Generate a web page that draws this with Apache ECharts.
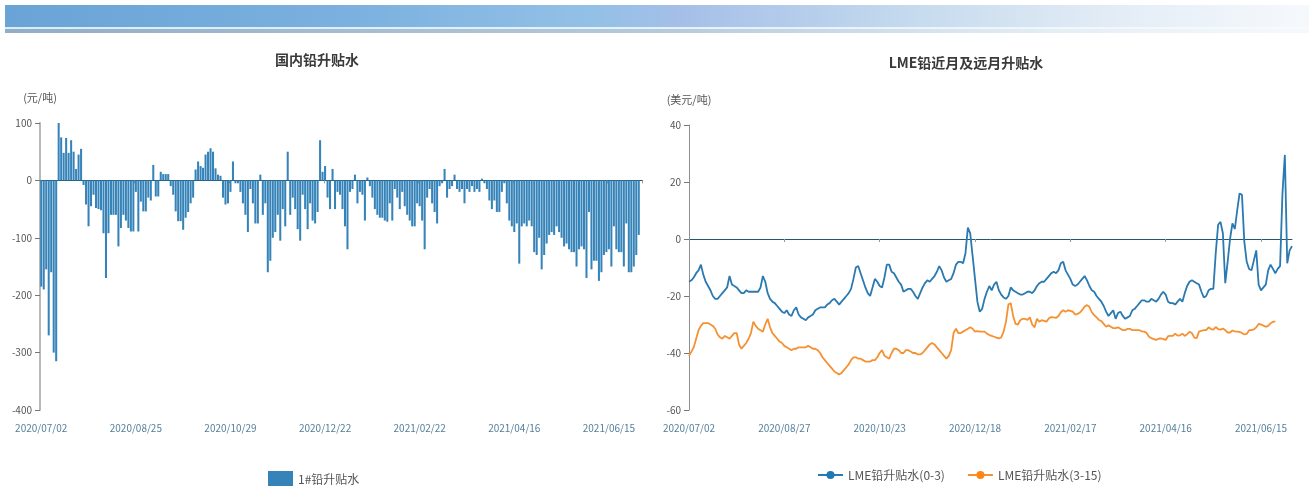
<!DOCTYPE html>
<html>
<head>
<meta charset="utf-8">
<script src="https://cdn.jsdelivr.net/npm/echarts@6/dist/echarts.min.js"></script>
<style>
  html, body { margin: 0; padding: 0; background: #ffffff; }
  #chart { width: 1309px; height: 486px; }
</style>
</head>
<body>
<div id="chart"></div>
<script>
// Exchange calendars used to build the date categories
const domesticClosed = [
  '2020-10-01', '2020-10-02', '2020-10-05', '2020-10-06', '2020-10-07', '2020-10-08',
  '2021-01-01', '2021-02-11', '2021-02-12', '2021-02-15', '2021-02-16', '2021-02-17',
  '2021-04-05', '2021-05-03', '2021-05-04', '2021-05-05', '2021-06-14'
];
const domesticNoQuote = ['2020-09-29', '2020-09-30', '2020-10-09'];
const lmeClosed = [
  '2020-08-31', '2020-12-25', '2020-12-28', '2021-01-01',
  '2021-04-02', '2021-04-05', '2021-05-03', '2021-05-31'
];

// 1# lead spot premium/discount (yuan/t)
const domesticSpread = [
  -185, -190, -155, -270, -160, -300, -315,
  100, 75, 48, 74, 48, 70, 50, 20, 45, 55,
  -8, -42, -80, -45, -25, -48, -50, -52, -92, -170, -92, -60, -60,
  -60, -115, -83, -60, -70, -83, -89, -89, -20, -89,
  -37, -54, -54, -30, -35, 27, -28, -28, 15, 11,
  11, 11, -10, -25, -54, -71, -71, -86, -65, -55,
  -40, -30, 19, 33, 25, 22, 45, 50, 56, 50,
  21, 10, 8, -30, -42, -40, -20, 33, -5, -5,
  -20, -40, -60, -90, -15, -40, -75, -75, 10, -60,
  -40, -160, -140, -100, -90, -60, -105, -50, -80, 50,
  -60, -30, -50, -85, -105, -25, -50, -85, -40, -70,
  -75, -55, 70, 15, 25, -30, -50, 20, -50, -20,
  -25, -50, -80, -120, -20, -15, 10, -40, -20, -25,
  -70, 5, -10, -30, -50, -60, -65, -65, -70, -72,
  -40, -70, -15, -30, -50, -20, -45, -60, -70, -80,
  -80, -40, -45, -70, -120, -30, -15, -40, -55, -75,
  -10, -5, 20, -30, -15, -10, 10, -15, -20, -15,
  -40, -15, -20, -10, -20, -15, -20, 3, -5, -15,
  -35, -50, -35, -55, -55, -20, -5, -40, -70, -80,
  -90, -75, -145, -80, -75, -80, -70, -80, -125, -130,
  -100, -155, -130, -110, -95, -90, -95, -80, -90, -100,
  -115, -110, -120, -125, -125, -150, -120, -115, -120, -170,
  -55, -155, -140, -140, -175, -160, -130, -125, -120, -150,
  -80, -120, -125, -125, -150, -75, -160, -160, -150, -130, -95
];

// LME lead cash-3M spread (USD/t)
const lmeCash3M = [
  -15, -14.5, -13.5, -12, -11, -9, -12.5, -15, -16.5, -18,
  -20, -21, -21, -20, -19, -18, -17, -13, -16, -16.5,
  -17, -18, -19, -19, -18, -18.5, -18.5, -18.5, -18.5, -18.5,
  -17, -13, -15, -19, -21, -22, -22.5, -23.5, -24.5, -25.5,
  -26, -25, -26.5, -27, -25, -24, -26.5, -27.5, -28, -28.5,
  -27.5, -27, -26.5, -25, -24.5, -24, -24, -24, -23, -22.5,
  -21.5, -21, -22, -23, -22, -21, -20, -19, -17.5, -14,
  -10, -9.5, -12, -14.5, -17, -19, -20, -17, -14, -15,
  -16.5, -17, -13.5, -9, -9, -11.5, -12, -13.5, -15, -16,
  -18.5, -18, -17.5, -17.5, -18.5, -20, -21, -19, -17, -15.5,
  -14.5, -15, -14, -13, -11.5, -9.5, -11, -13.5, -15, -14.5,
  -14, -12, -9, -8, -8, -8.5, -5, 4, 2, -6,
  -14, -22, -25.5, -24.5, -21, -18.5, -16.5, -18, -16, -15,
  -18, -19.5, -20.5, -21, -20, -17, -18, -18.5, -19, -19.5,
  -19.5, -19, -18.5, -18.5, -19, -18, -16.5, -15.5, -15, -15,
  -14, -13, -12, -11.5, -12, -11, -8.5, -8, -11, -12.5,
  -14, -16, -16.5, -16, -15, -14, -13, -14.5, -16.5, -18,
  -18.5, -20, -21, -22, -23.5, -25.5, -27, -26, -25, -28,
  -26, -25.5, -27, -28, -27.5, -27, -25, -24.5, -23.5, -22.5,
  -21.5, -21.5, -22, -22, -21, -21.5, -22, -21, -19.5, -18.5,
  -19.5, -22, -22.5, -22.5, -23, -22, -21, -22, -19, -16.5,
  -15, -14.5, -15, -15.5, -16, -18.5, -20.5, -20, -18, -17.5,
  -17.5, -5, 5, 6, 2, -15.5, -8, 0, 5.5, 3.5,
  10, 16, 15.5, -1, -8, -10.5, -11, -7.5, -4, -16,
  -18, -17, -16, -11, -9, -10.5, -12, -10.5, -9.5, 16,
  29.5, -8.5, -4, -2.5
];

// LME lead 3M-15M spread (USD/t)
const lme3M15M = [
  -41, -39.5, -38, -35, -32, -30.5, -29.5, -29.5, -29.5, -30,
  -30.5, -31.5, -33.5, -34.5, -35, -34, -34.5, -35, -34, -33,
  -33, -37, -38.5, -37.5, -36.5, -35, -33, -29, -30.5, -31.5,
  -32, -32.5, -30, -28, -31, -33, -34, -35, -36, -36.5,
  -37.5, -38, -38.5, -39, -38.5, -38.5, -38, -38, -38, -38,
  -37.5, -38, -38.5, -38.5, -39, -40, -41.5, -42.5, -43.5, -44.5,
  -45.5, -46.5, -47, -47.5, -47, -46, -45, -44, -42.5, -41.5,
  -41.5, -42, -42, -42.5, -43, -43, -43, -42.5, -42.5, -41.5,
  -40, -39, -41, -41.5, -42, -40, -38.5, -38.5, -39, -40,
  -40, -39, -39, -39.5, -40, -40, -40.5, -40.5, -40, -39,
  -38, -37, -36.5, -37, -38, -39, -40, -41, -42, -41,
  -39, -33, -31.5, -33, -33, -32.5, -32, -31.5, -31, -31.5,
  -32.5, -32.3, -32.5, -32.5, -32.5, -33.2, -33.7, -34, -34.3, -34.6,
  -34.9, -34.5, -32.5, -29, -23, -22.5, -27, -29.8, -30, -28.5,
  -28, -28, -28.4, -27.5, -30, -31, -28, -29, -28.5, -28.7,
  -29, -27.8, -27.4, -27.5, -27.7, -27, -25.7, -25, -25.5, -25,
  -25.2, -25.5, -26.5, -26.3, -25.8, -24.9, -23.7, -23.2, -23.8, -25.7,
  -26.7, -27.5, -28.4, -28.8, -29.8, -30.8, -30.3, -30.8, -31.3, -31.3,
  -31, -31.5, -32, -32, -31.5, -31.5, -32, -32, -32, -32,
  -32.4, -32.5, -33, -34.3, -34.8, -35.1, -35.4, -35, -34.9, -35.1,
  -35.4, -34.1, -34, -34, -33.2, -33.9, -33.8, -33.2, -34, -33.4,
  -32.6, -33, -34.6, -34.8, -32.5, -32.2, -32, -32, -31, -31.6,
  -31.8, -30.9, -31.6, -31.8, -31.4, -32, -32.8, -32.8, -32.1, -32.4,
  -32.5, -32.6, -33, -33.5, -33.3, -32, -32, -31.7, -31, -29.8,
  -30, -30.4, -30.8, -30.5, -29.6, -29, -29
];

const leftTicks = [-400, -300, -200, -100, 0, 100];
const rightTicks = [-60, -40, -20, 0, 20, 40];

// Weekdays between two dates, minus the listed closed days, as YYYY/MM/DD
function tradingDays(start, end, closed) {
  const skip = new Set(closed);
  const out = [];
  const d = new Date(start + 'T00:00:00Z');
  const stop = new Date(end + 'T00:00:00Z');
  while (d <= stop) {
    const wd = d.getUTCDay();
    const iso = d.toISOString().slice(0, 10);
    if (wd !== 0 && wd !== 6 && !skip.has(iso)) out.push(iso.replace(/-/g, '/'));
    d.setUTCDate(d.getUTCDate() + 1);
  }
  return out;
}

const domesticDates = tradingDays('2020-07-02', '2021-07-02', domesticClosed.concat(domesticNoQuote));
const lmeDates = tradingDays('2020-07-02', '2021-07-02', lmeClosed);

const FONT = "'Noto Sans CJK SC', 'Noto Sans', sans-serif";
const chart = echarts.init(document.getElementById('chart'), null, { renderer: 'canvas' });

function grad(stops) {
  return new echarts.graphic.LinearGradient(0, 0, 1, 0, stops);
}

function valueAxis(gridIndex, ticks, name, lineStyle) {
  return {
    type: 'value',
    gridIndex: gridIndex,
    min: ticks[0],
    max: ticks[ticks.length - 1],
    interval: ticks[1] - ticks[0],
    name: name,
    nameLocation: 'end',
    nameGap: 20,
    nameTextStyle: { fontFamily: FONT, fontSize: 11, color: '#555', align: 'center' },
    axisLine: { show: true, lineStyle: lineStyle },
    axisTick: { show: true, length: 5, lineStyle: { color: '#777' } },
    axisLabel: { fontFamily: FONT, fontSize: 10, color: '#555', margin: 8 },
    splitLine: { show: false }
  };
}

function dateAxes(gridIndex, dates, every) {
  return [
    {
      type: 'category',
      gridIndex: gridIndex,
      data: dates,
      position: 'bottom',
      boundaryGap: gridIndex === 0,
      axisLine: { show: false, onZero: false },
      axisTick: { show: false },
      axisLabel: { interval: every - 1, fontFamily: FONT, fontSize: 10, color: '#55809a', margin: 13 },
      splitLine: { show: false }
    },
    {
      type: 'category',
      gridIndex: gridIndex,
      data: dates,
      position: 'top',
      boundaryGap: gridIndex === 0,
      axisLine: { show: true, onZero: true, lineStyle: { color: '#24566f', width: 1 } },
      axisTick: { show: true, inside: true, interval: every - 1, length: 3, lineStyle: { color: '#999' } },
      axisLabel: { show: false },
      splitLine: { show: false }
    }
  ];
}

const option = {
  backgroundColor: '#ffffff',
  animation: false,
  graphic: [
    { type: 'rect', silent: true, shape: { x: 5, y: 5, width: 1304, height: 22 },
      style: { fill: grad([
        { offset: 0, color: '#6aa3d6' }, { offset: 0.25, color: '#79b0df' },
        { offset: 0.45, color: '#93c0e6' }, { offset: 0.52, color: '#a5bfe8' },
        { offset: 0.7, color: '#c6dbee' }, { offset: 0.85, color: '#e3ecf6' },
        { offset: 1, color: '#f6f9fc' }]) } },
    { type: 'rect', silent: true, shape: { x: 5, y: 27, width: 1304, height: 2 },
      style: { fill: grad([
        { offset: 0, color: '#d8eef6' }, { offset: 0.6, color: '#e6f4fa' },
        { offset: 1, color: '#f8fbfd' }]) } },
    { type: 'rect', silent: true, shape: { x: 5, y: 29, width: 1304, height: 4 },
      style: { fill: grad([
        { offset: 0, color: '#93adc6' }, { offset: 0.5, color: '#b5c9dc' },
        { offset: 0.8, color: '#e4edf5' }, { offset: 1, color: '#f6f9fc' }]) } }
  ],
  title: [
    { text: '国内铅升贴水', left: 312, top: 48, textAlign: 'center',
      textStyle: { fontFamily: FONT, fontSize: 14, fontWeight: 'bold', color: '#3a3a3a' } },
    { text: 'LME铅近月及远月升贴水', left: 961, top: 51, textAlign: 'center',
      textStyle: { fontFamily: FONT, fontSize: 14, fontWeight: 'bold', color: '#3a3a3a' } }
  ],
  legend: [
    { data: ['1#铅升贴水'], left: 263, top: 466, itemWidth: 25, itemHeight: 16,
      icon: 'rect', textStyle: { fontFamily: FONT, fontSize: 12, color: '#555' } },
    { data: ['LME铅升贴水(0-3)', 'LME铅升贴水(3-15)'], left: 812, top: 464,
      itemWidth: 25, itemHeight: 10, itemGap: 22,
      textStyle: { fontFamily: FONT, fontSize: 12, color: '#555' } }
  ],
  grid: [
    { left: 40, top: 123, width: 602.5, height: 287, containLabel: false },
    { left: 689, top: 125, width: 603, height: 285, containLabel: false }
  ],
  xAxis: dateAxes(0, domesticDates, 38).concat(dateAxes(1, lmeDates, 40)),
  yAxis: [
    valueAxis(0, leftTicks, '(元/吨)', { color: '#b9b9b9', width: 2 }),
    valueAxis(1, rightTicks, '(美元/吨)', { color: '#8f8f8f', width: 1 })
  ],
  series: [
    {
      name: '1#铅升贴水',
      type: 'bar',
      xAxisIndex: 0,
      yAxisIndex: 0,
      data: domesticSpread,
      barCategoryGap: '18%',
      itemStyle: { color: '#3583b8' }
    },
    {
      name: 'LME铅升贴水(0-3)',
      type: 'line',
      xAxisIndex: 2,
      yAxisIndex: 1,
      data: lmeCash3M,
      symbol: 'circle',
      symbolSize: 9,
      showSymbol: false,
      lineStyle: { color: '#2a79b0', width: 1.8 },
      itemStyle: { color: '#1f77b4' }
    },
    {
      name: 'LME铅升贴水(3-15)',
      type: 'line',
      xAxisIndex: 2,
      yAxisIndex: 1,
      data: lme3M15M,
      symbol: 'circle',
      symbolSize: 9,
      showSymbol: false,
      lineStyle: { color: '#f59131', width: 1.8 },
      itemStyle: { color: '#ff8412' }
    }
  ]
};

chart.setOption(option);
</script>
</body>
</html>
